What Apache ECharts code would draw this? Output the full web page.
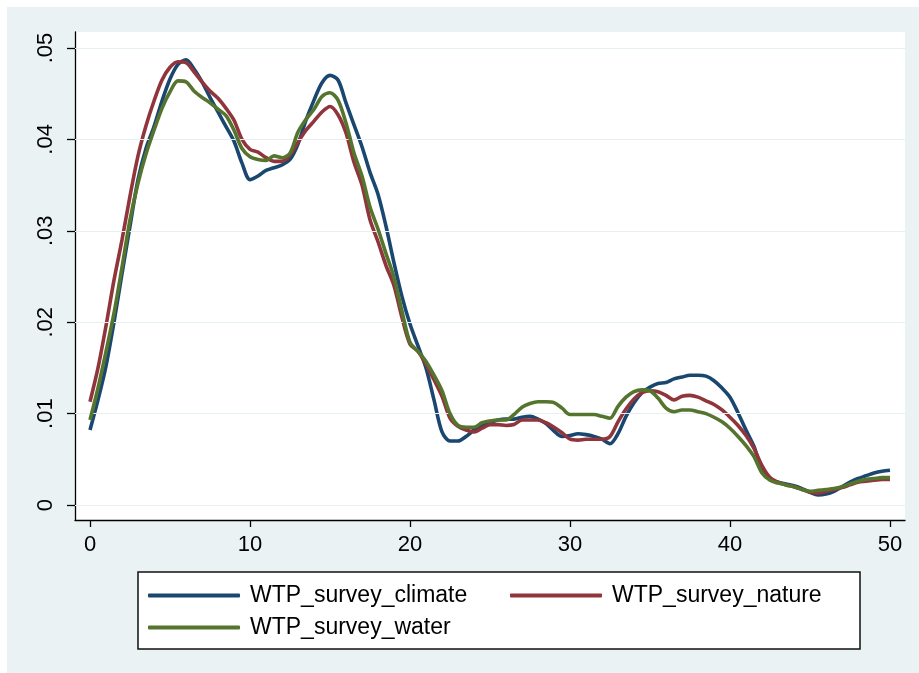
<!DOCTYPE html>
<html>
<head>
<meta charset="utf-8">
<script src="https://cdn.jsdelivr.net/npm/echarts@6/dist/echarts.min.js"></script>
<style>
  html, body { margin: 0; padding: 0; background: #ffffff; }
  #chart { width: 919px; height: 673px; }
</style>
</head>
<body>
<div id="chart"></div>
<script>
// Kernel density estimates of willingness to pay, by survey
const xs = [0,0.5,1,1.5,2,2.5,3,3.5,4,4.5,5,5.5,6,6.5,7,7.5,8,8.5,9,9.5,
  10,10.5,11,11.5,12,12.5,13,13.5,14,14.5,15,15.5,16,16.5,17,17.5,18,18.5,19,19.5,
  20,20.5,21,21.5,22,22.5,23,23.5,24,24.5,25,25.5,26,26.5,27,27.5,28,28.5,29,29.5,
  30,30.5,31,31.5,32,32.5,33,33.5,34,34.5,35,35.5,36,36.5,37,37.5,38,38.5,39,39.5,
  40,40.5,41,41.5,42,42.5,43,43.5,44,44.5,45,45.5,46,46.5,47,47.5,48,48.5,49,49.5,50];

const climate = [0.0082,0.0115,0.0152,0.0200,0.0253,0.0305,0.0356,0.0390,0.0414,0.0442,
  0.0466,0.0482,0.0487,0.0477,0.0463,0.0446,0.0430,0.0414,0.0398,0.0374,
  0.0356,0.0360,0.0366,0.0369,0.0372,0.0378,0.0395,0.0421,0.0443,0.0462,
  0.0470,0.0465,0.0440,0.0416,0.0392,0.0364,0.0340,0.0305,0.0265,0.0228,
  0.0198,0.0174,0.0150,0.0115,0.0080,0.0070,0.0070,0.0075,0.0082,0.0087,
  0.0090,0.0093,0.0094,0.0094,0.0096,0.0097,0.0094,0.0089,0.0081,0.0075,
  0.0076,0.0078,0.0077,0.0075,0.0072,0.0067,0.0078,0.0097,0.0112,0.0123,
  0.0129,0.0133,0.0134,0.0138,0.0140,0.0142,0.0142,0.0141,0.0136,0.0128,
  0.0118,0.0101,0.0082,0.0064,0.0038,0.0028,0.0025,0.0023,0.0021,0.0018,
  0.0014,0.0011,0.0012,0.0015,0.0020,0.0025,0.0029,0.0032,0.0035,0.0037,0.0038];

const nature = [0.0113,0.0150,0.0196,0.0246,0.0290,0.0338,0.0382,0.0415,0.0442,0.0465,
  0.0479,0.0485,0.0484,0.0474,0.0463,0.0453,0.0445,0.0434,0.0421,0.0400,
  0.0389,0.0386,0.0380,0.0376,0.0376,0.0383,0.0397,0.0410,0.0420,0.0430,
  0.0436,0.0427,0.0407,0.0375,0.0350,0.0312,0.0288,0.0262,0.0240,0.0205,
  0.0176,0.0168,0.0154,0.0137,0.0119,0.0095,0.0086,0.0082,0.0080,0.0084,
  0.0088,0.0088,0.0087,0.0088,0.0093,0.0093,0.0093,0.0090,0.0085,0.0079,
  0.0072,0.0071,0.0072,0.0072,0.0072,0.0075,0.0091,0.0105,0.0116,0.0123,
  0.0125,0.0124,0.0120,0.0115,0.0119,0.0120,0.0118,0.0114,0.0110,0.0104,
  0.0096,0.0087,0.0076,0.0062,0.0043,0.0030,0.0025,0.0022,0.0020,0.0017,
  0.0014,0.0013,0.0015,0.0017,0.0019,0.0022,0.0025,0.0026,0.0027,0.0028,0.0028];

const water = [0.0093,0.0128,0.0168,0.0210,0.0260,0.0312,0.0352,0.0384,0.0410,0.0434,
  0.0452,0.0464,0.0463,0.0453,0.0446,0.0440,0.0433,0.0426,0.0410,0.0390,
  0.0381,0.0378,0.0377,0.0382,0.0380,0.0385,0.0408,0.0422,0.0433,0.0447,
  0.0451,0.0443,0.0418,0.0385,0.0360,0.0326,0.0302,0.0275,0.0249,0.0212,
  0.0178,0.0168,0.0157,0.0142,0.0125,0.0100,0.0087,0.0085,0.0085,0.0090,
  0.0092,0.0093,0.0093,0.0099,0.0107,0.0111,0.0113,0.0113,0.0112,0.0106,
  0.0099,0.0099,0.0099,0.0099,0.0097,0.0095,0.0108,0.0118,0.0124,0.0126,
  0.0125,0.0117,0.0106,0.0102,0.0104,0.0104,0.0102,0.0100,0.0096,0.0091,
  0.0084,0.0075,0.0065,0.0053,0.0035,0.0027,0.0024,0.0022,0.0020,0.0017,
  0.0015,0.0016,0.0017,0.0018,0.0020,0.0023,0.0026,0.0028,0.0029,0.0030,0.0030];

const seriesNames = ['WTP_survey_climate', 'WTP_survey_nature', 'WTP_survey_water'];
const xTicks = [0, 10, 20, 30, 40, 50];
const yTicks = [0, 0.01, 0.02, 0.03, 0.04, 0.05];
const yTickLabels = ['0', '.01', '.02', '.03', '.04', '.05'];

const colors = ['#1A476F', '#90353B', '#55752F'];
const FONT = "'Liberation Sans', Arial, sans-serif";

const pairs = ys => xs.map((x, i) => [x, ys[i]]);

// one legend per key, laid out in two columns inside a framed box
const legendSlots = [
  { left: 148, top: 584 },
  { left: 510, top: 584 },
  { left: 148, top: 616 }
];
const legends = seriesNames.map((name, i) => ({
  data: [name],
  left: legendSlots[i].left, top: legendSlots[i].top,
  padding: 0,
  itemWidth: 92, itemHeight: 4,
  icon: 'roundRect',
  selectedMode: false,
  textStyle: { color: '#000', fontSize: 23, fontFamily: FONT, padding: [0, 0, 0, 5] }
}));

const chart = echarts.init(document.getElementById('chart'), null, { renderer: 'canvas' });

chart.setOption({
  backgroundColor: '#ffffff',
  animation: false,
  graphic: [
    {
      type: 'rect', z: -10, silent: true,
      shape: { x: 7, y: 7, width: 912, height: 666 },
      style: { fill: '#EAF2F3' }
    },
    {
      type: 'rect', z: 3, silent: true,
      shape: { x: 138, y: 572, width: 722, height: 77 },
      style: { fill: '#ffffff', stroke: '#111', lineWidth: 1.5 }
    }
  ],
  grid: {
    left: 75, top: 32, right: 14, bottom: 153,
    show: true, backgroundColor: '#ffffff', borderWidth: 0
  },
  xAxis: {
    type: 'value',
    min: -0.9375, max: 50.9375,
    axisLine: { show: true, onZero: false, lineStyle: { color: '#000', width: 1.3 } },
    axisTick: { show: true, length: 7, customValues: xTicks, lineStyle: { color: '#000', width: 1.3 } },
    axisLabel: {
      customValues: xTicks, color: '#000', fontSize: 22, fontFamily: FONT, margin: 14
    },
    splitLine: { show: false }
  },
  yAxis: {
    type: 'value',
    min: -0.00164, max: 0.05175,
    axisLine: { show: true, onZero: false, lineStyle: { color: '#000', width: 1.3 } },
    axisTick: { show: true, length: 8, customValues: yTicks, lineStyle: { color: '#000', width: 1.3 } },
    axisLabel: {
      customValues: yTicks, rotate: 90, color: '#000', fontSize: 22, fontFamily: FONT, margin: 18,
      formatter: v => yTickLabels[yTicks.findIndex(t => Math.abs(t - v) < 1e-9)]
    },
    splitLine: { show: false }
  },
  legend: legends,
  series: [
    {
      name: 'gridlines', type: 'line', data: [], z: 1, silent: true,
      markLine: {
        silent: true, symbol: 'none', animation: false,
        label: { show: false },
        lineStyle: { color: '#E6EFF1', width: 1.2, type: 'solid' },
        data: yTicks.map(v => ({ yAxis: v }))
      }
    },
    ...[climate, nature, water].map((ys, i) => ({
      name: seriesNames[i], type: 'line', data: pairs(ys),
      showSymbol: false, smooth: 0.3, z: 3 + i,
      color: colors[i],
      lineStyle: { color: colors[i], width: 3.6 }
    }))
  ]
});
</script>
</body>
</html>
